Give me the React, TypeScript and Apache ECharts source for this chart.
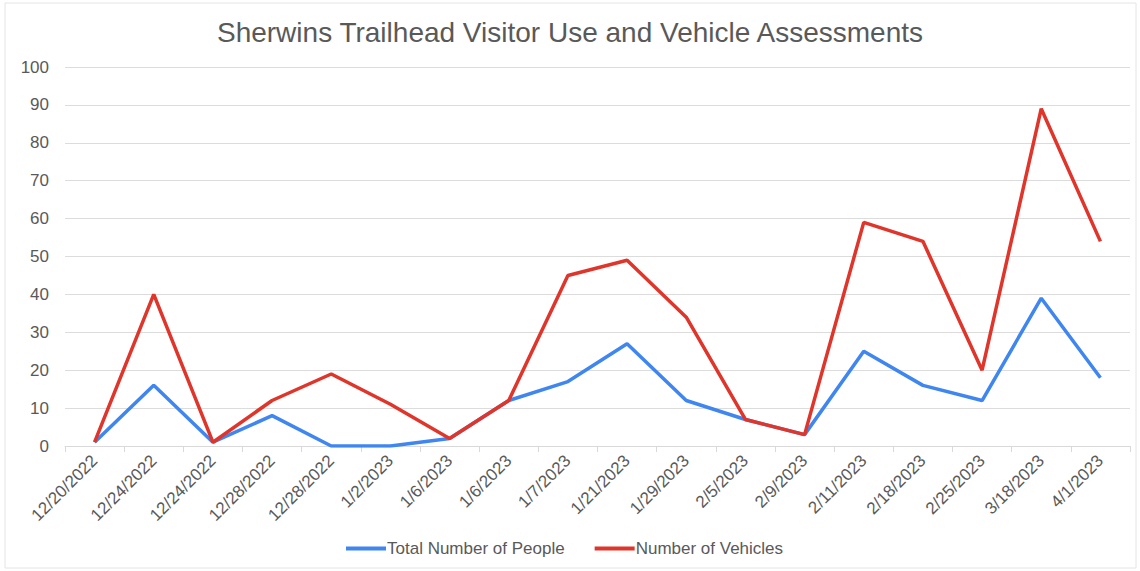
import React, { useEffect, useRef } from "react";
import * as echarts from "echarts";

const categories = [
  "12/20/2022", "12/24/2022", "12/24/2022", "12/28/2022", "12/28/2022", "1/2/2023",
  "1/6/2023", "1/6/2023", "1/7/2023", "1/21/2023", "1/29/2023", "2/5/2023",
  "2/9/2023", "2/11/2023", "2/18/2023", "2/25/2023", "3/18/2023", "4/1/2023",
];
const people = [1, 16, 1, 8, 0, 0, 2, 12, 17, 27, 12, 7, 3, 25, 16, 12, 39, 18];
const vehicles = [1, 40, 1, 12, 19, 11, 2, 12, 45, 49, 34, 7, 3, 59, 54, 20, 89, 54];

export default function App() {
  const ref = useRef<HTMLDivElement>(null);
  useEffect(() => {
    document.body.style.margin = "0";
    const chart = echarts.init(ref.current!, null, { renderer: "svg" });
    const font = "Liberation Sans, Arial, sans-serif";
    chart.setOption({
      animation: false,
      backgroundColor: "#ffffff",
      title: {
        text: "Sherwins Trailhead Visitor Use and Vehicle Assessments",
        left: "center",
        top: 13,
        textStyle: { fontFamily: font, fontSize: 28, fontWeight: "normal", color: "#595959" },
      },
      graphic: [
        {
          type: "rect",
          shape: { x: 5, y: 3, width: 1131, height: 565 },
          style: { fill: "none", stroke: "#e4e4e4", lineWidth: 1 },
          silent: true,
        },
      ],
      legend: {
        bottom: 9,
        left: 341,
        icon: "rect",
        itemWidth: 40,
        itemHeight: 4,
        itemGap: 30,
        textStyle: { fontFamily: font, fontSize: 17, color: "#595959", padding: [0, 0, 0, -4] },
        data: ["Total Number of People", "Number of Vehicles"],
      },
      grid: { left: 65, right: 10, top: 67, bottom: 125, containLabel: false },
      xAxis: {
        type: "category",
        data: categories,
        boundaryGap: true,
        axisLine: { lineStyle: { color: "#d9d9d9", width: 1 } },
        axisTick: { show: true, length: 6, lineStyle: { color: "#d9d9d9" } },
        axisLabel: {
          rotate: 45,
          interval: 0,
          fontFamily: font,
          fontSize: 17,
          color: "#595959",
          margin: 12,
        },
      },
      yAxis: {
        type: "value",
        min: 0,
        max: 100,
        interval: 10,
        axisLine: { show: false },
        axisTick: { show: false },
        splitLine: { lineStyle: { color: "#dcdcdc", width: 1 } },
        axisLabel: { fontFamily: font, fontSize: 17, color: "#595959", margin: 16 },
      },
      series: [
        {
          name: "Total Number of People",
          type: "line",
          data: people,
          showSymbol: false,
          symbol: "none",
          lineStyle: { color: "#3f86f0", width: 3.5 },
          itemStyle: { color: "#3f86f0" },
        },
        {
          name: "Number of Vehicles",
          type: "line",
          data: vehicles,
          showSymbol: false,
          symbol: "none",
          lineStyle: { color: "#e0352b", width: 3.5 },
          itemStyle: { color: "#e0352b" },
        },
      ],
    });
    return () => chart.dispose();
  }, []);
  return <div ref={ref} style={{ width: 1140, height: 571 }} />;
}
